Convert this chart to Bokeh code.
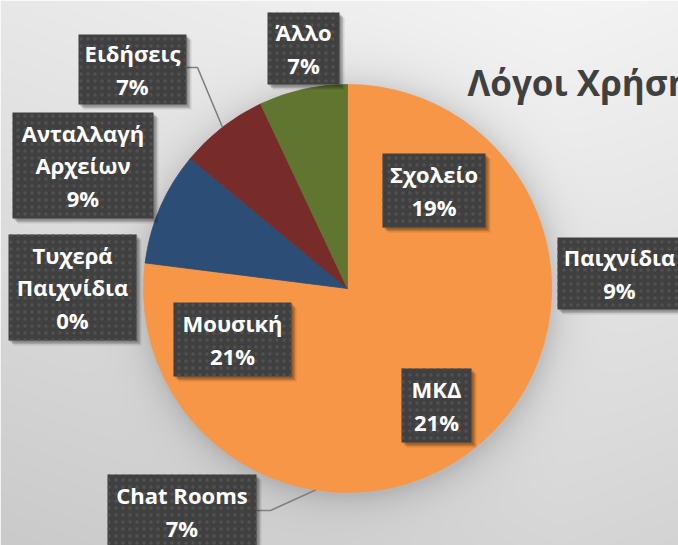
import numpy as np
from bokeh.plotting import figure
from bokeh.models import Range1d, ColumnDataSource
from bokeh.core.properties import value
from bokeh.embed import file_html
from bokeh.resources import INLINE

# ---------------- data ----------------
categories = ["Σχολείο", "Παιχνίδια", "ΜΚΔ", "Chat Rooms", "Μουσική",
              "Τυχερά Παιχνίδια", "Ανταλλαγή Αρχείων", "Ειδήσεις", "Άλλο"]
label_names = ["Σχολείο", "Παιχνίδια", "ΜΚΔ", "Chat Rooms", "Μουσική",
               "Τυχερά\nΠαιχνίδια", "Ανταλλαγή\nΑρχείων", "Ειδήσεις", "Άλλο"]
percent = [19, 9, 21, 7, 21, 0, 9, 7, 7]
slice_colors = ["#F79646", "#F79646", "#F79646", "#F79646", "#F79646",
                "#F79646", "#2C4D75", "#772C2A", "#5F7530"]
title_text = "Λόγοι Χρήσης Διαδικτύου"

# ---------------- layout (page pixels) ----------------
W, H = 678, 545
CX, CY, R = 347, 288, 204
# label boxes: centre x, centre y, width, height
boxes = [(433.5, 190, 103, 74), (619, 273, 124, 72), (436, 405, 70, 74),
         (181.5, 511, 149, 74), (232, 339, 118, 74), (72, 287, 128, 106),
         (82.5, 165, 141, 106), (132, 69, 108, 70), (303, 48, 72, 72)]
# leader lines: slice index -> (box edge x, y, elbow x)
leaders = {3: (256, 510, 270), 7: (186, 67, 197)}

p = figure(width=W, height=H, output_backend="svg", toolbar_location=None,
           x_range=Range1d(0, W), y_range=Range1d(-H, 0),
           min_border=0, border_fill_color="#e6e6e6", outline_line_color=None)
p.axis.visible = False
p.grid.visible = False

# ---------------- background gradient + pie halo ----------------
xs = np.arange(W) + 0.5
ys = H - np.arange(H) - 0.5  # row 0 is bottom
X, Y = np.meshgrid(xs, ys)
g = 244 - 30 * (Y / 545.0) - 12 * (np.abs(X - 560) / 560.0)
d = np.hypot(X - (CX + 2), Y - (CY + 3))
halo = np.where(d > R, 30 * np.exp(-(d - R) / 16.0), 30)
g = np.clip(g - halo, 0, 255).astype(np.uint8)
img = np.empty((H, W), dtype=np.uint32)
v = img.view(dtype=np.uint8).reshape((H, W, 4))
v[..., 0] = g
v[..., 1] = g
v[..., 2] = g
v[..., 3] = 255
p.image_rgba(image=[img], x=0, y=-H, dw=W, dh=H)

# ---------------- pie ----------------
vals = np.array(percent, dtype=float)
frac = vals / vals.sum()
cum_end = np.cumsum(frac)
cum_start = cum_end - frac
start_ang = np.pi / 2 - 2 * np.pi * cum_start
end_ang = np.pi / 2 - 2 * np.pi * cum_end
keep = vals > 0
src = ColumnDataSource(dict(
    start=start_ang[keep], end=end_ang[keep],
    color=[c for c, k in zip(slice_colors, keep) if k],
    cat=[c for c, k in zip(categories, keep) if k]))
p.wedge(x=CX, y=-CY, radius=R, start_angle="start", end_angle="end",
        direction="clock", fill_color="color", line_color="color",
        line_width=0.8, source=src)

# ---------------- leader lines ----------------
for i, (bx0, by0, ex) in leaders.items():
    mid = (cum_start[i] + cum_end[i]) / 2 * 2 * np.pi
    px = CX + R * np.sin(mid)
    py = CY - R * np.cos(mid)
    p.line(x=[bx0, ex, px], y=[-by0, -by0, -py], line_color="#808080", line_width=1.6)

# ---------------- label boxes ----------------
bx = [b[0] for b in boxes]
by = [-b[1] for b in boxes]
bw = [b[2] for b in boxes]
bh = [b[3] for b in boxes]
for off, a in ((5, 0.10), (3.5, 0.14), (2, 0.18)):
    p.rect(x=[x + off for x in bx], y=[y - off for y in by], width=bw, height=bh,
           fill_color="black", fill_alpha=a, line_color=None)
p.rect(x=bx, y=by, width=bw, height=bh, fill_color="#404040", line_color=None,
       hatch_pattern="dot", hatch_color="#515151", hatch_scale=7, hatch_weight=1.0)

labels = [f"{n}\n{pc}%" for n, pc in zip(label_names, percent)]
p.text(x=bx, y=by, text=labels, text_font=value("Open Sans"),
       text_font_style="bold", text_font_size="22px", text_color="white",
       text_align="center", text_baseline="middle", text_line_height=1.07)

# ---------------- title ----------------
p.text(x=[467], y=[-82], text=[title_text], text_font=value("Open Sans"),
       text_font_style="bold", text_font_size="35px", text_color="#404040",
       text_align="left", text_baseline="alphabetic")

open("out.html", "w").write(file_html(p, INLINE))
